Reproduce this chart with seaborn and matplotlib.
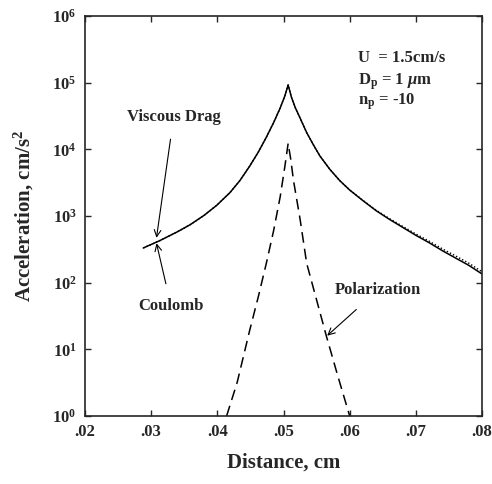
import matplotlib
matplotlib.use("Agg")
import matplotlib.pyplot as plt
import seaborn as sns
import pandas as pd

# Data
drag_x = [0.0288, 0.0313, 0.0340, 0.0359, 0.0380, 0.0399, 0.0419, 0.0434, 0.0449, 0.0462, 0.0474,
          0.0485, 0.0495, 0.0502, 0.0507,
          0.0512, 0.0518, 0.0525, 0.0535, 0.0545, 0.0555, 0.0570, 0.0585, 0.0600, 0.0620,
          0.0640, 0.0660, 0.0680, 0.0700, 0.0720, 0.0740, 0.0760, 0.0780, 0.0800]
drag_y = [331, 427, 582, 741, 1023, 1445, 2240, 3390, 5620, 9120, 15140,
          25100, 41700, 63100, 92300,
          60300, 41700, 29500, 17800, 11750, 7940, 5010, 3390, 2450, 1700,
          1200, 891, 676, 513, 398, 302, 234, 182, 135]
coul_x = drag_x
coul_y = [331, 427, 582, 741, 1023, 1445, 2240, 3390, 5620, 9120, 15140,
          25100, 41700, 63100, 92300,
          60300, 41700, 29500, 17800, 11750, 7940, 5010, 3390, 2460, 1715,
          1220, 915, 700, 537, 420, 322, 252, 196, 146]
pol_x = [0.0414, 0.0430, 0.0449, 0.0462, 0.0474, 0.0485, 0.0495, 0.0502, 0.0507,
         0.0511, 0.0515, 0.0525, 0.0535, 0.0550, 0.0565, 0.0582, 0.0600]
pol_y = [1.0, 3.2, 19.5, 62, 195, 600, 1950, 5500, 12300,
         7000, 3450, 900, 195, 55, 15.5, 4.0, 1.0]

xticks = [0.02, 0.03, 0.04, 0.05, 0.06, 0.07, 0.08]
xtick_labels = [".02", ".03", ".04", ".05", ".06", ".07", ".08"]
yticks = [1e0, 1e1, 1e2, 1e3, 1e4, 1e5, 1e6]
ytick_labels = [r"$\mathbf{10^{0}}$", r"$\mathbf{10^{1}}$", r"$\mathbf{10^{2}}$", r"$\mathbf{10^{3}}$",
                r"$\mathbf{10^{4}}$", r"$\mathbf{10^{5}}$", r"$\mathbf{10^{6}}$"]

sns.set_style("ticks")
plt.rcParams['font.family'] = ['Liberation Serif', 'DejaVu Serif']
plt.rcParams['font.weight'] = 'bold'
plt.rcParams['mathtext.fontset'] = 'custom'
plt.rcParams['mathtext.rm'] = 'Liberation Serif:bold'
plt.rcParams['mathtext.bf'] = 'Liberation Serif:bold'
plt.rcParams['mathtext.it'] = 'Liberation Serif:italic:bold'

fig = plt.figure(figsize=(4.92, 4.84), dpi=100)
ax = fig.add_axes([0.1728, 0.1405, 0.8069, 0.8265])

df_drag = pd.DataFrame({"x": drag_x, "y": drag_y})
df_coul = pd.DataFrame({"x": coul_x, "y": coul_y})
df_pol = pd.DataFrame({"x": pol_x, "y": pol_y})

sns.lineplot(data=df_coul, x="x", y="y", ax=ax, color="black", lw=1.0, linestyle=(0, (1, 1.5)), sort=False)
sns.lineplot(data=df_drag, x="x", y="y", ax=ax, color="black", lw=1.1, sort=False)
sns.lineplot(data=df_pol, x="x", y="y", ax=ax, color="black", lw=1.1, linestyle=(0, (7, 4)), sort=False)

ax.set_yscale("log")
ax.set_xlim(0.02, 0.08)
ax.set_ylim(1, 1e6)
ax.set_xticks(xticks)
ax.set_xticklabels(xtick_labels, fontsize=12, fontweight='bold')
ax.set_yticks(yticks)
ax.set_yticklabels(ytick_labels, fontsize=12)
ax.yaxis.set_minor_locator(matplotlib.ticker.NullLocator())
ax.tick_params(direction='in', length=4, width=1, top=True, right=True, pad=6)
for s in ax.spines.values():
    s.set_linewidth(1.2)

ax.set_xlabel("Distance, cm", fontsize=15, fontweight='bold', labelpad=9)
ax.set_ylabel(r"Acceleration, cm/s$^\mathbf{2}$", fontsize=15, fontweight='bold', labelpad=12)

fs = 12
ax.text(0.0612, 10**(6 - (58 - 16) / 66.7), "U  = 1.5cm/s", fontsize=fs, fontweight='bold', va='center')
ax.text(0.0612, 10**(6 - (82 - 16) / 66.7), r"D$_\mathbf{p}$ = 1 $\mu$m", fontsize=fs, fontweight='bold', va='center')
ax.text(0.0612, 10**(6 - (102 - 16) / 66.7), r"n$_\mathbf{p}$ = -10", fontsize=fs, fontweight='bold', va='center')

ax.annotate("Viscous Drag", xy=(0.0308, 470), xytext=(0.0334, 10**(6 - (117 - 16) / 66.7)),
            fontsize=fs, fontweight='bold', ha='center', va='center',
            arrowprops=dict(arrowstyle='->', color='black', lw=0.8, shrinkA=8, shrinkB=0))
ax.annotate("Coulomb", xy=(0.0308, 390), xytext=(0.0330, 10**(6 - (306 - 16) / 66.7)),
            fontsize=fs, fontweight='bold', ha='center', va='center',
            arrowprops=dict(arrowstyle='->', color='black', lw=0.8, shrinkA=8, shrinkB=0))
ax.annotate("Polarization", xy=(0.0566, 16), xytext=(0.0643, 10**(6 - (290 - 16) / 66.7)),
            fontsize=fs, fontweight='bold', ha='center', va='center',
            arrowprops=dict(arrowstyle='->', color='black', lw=0.8, shrinkA=9, shrinkB=0))

fig.savefig("out.png", dpi=100)
